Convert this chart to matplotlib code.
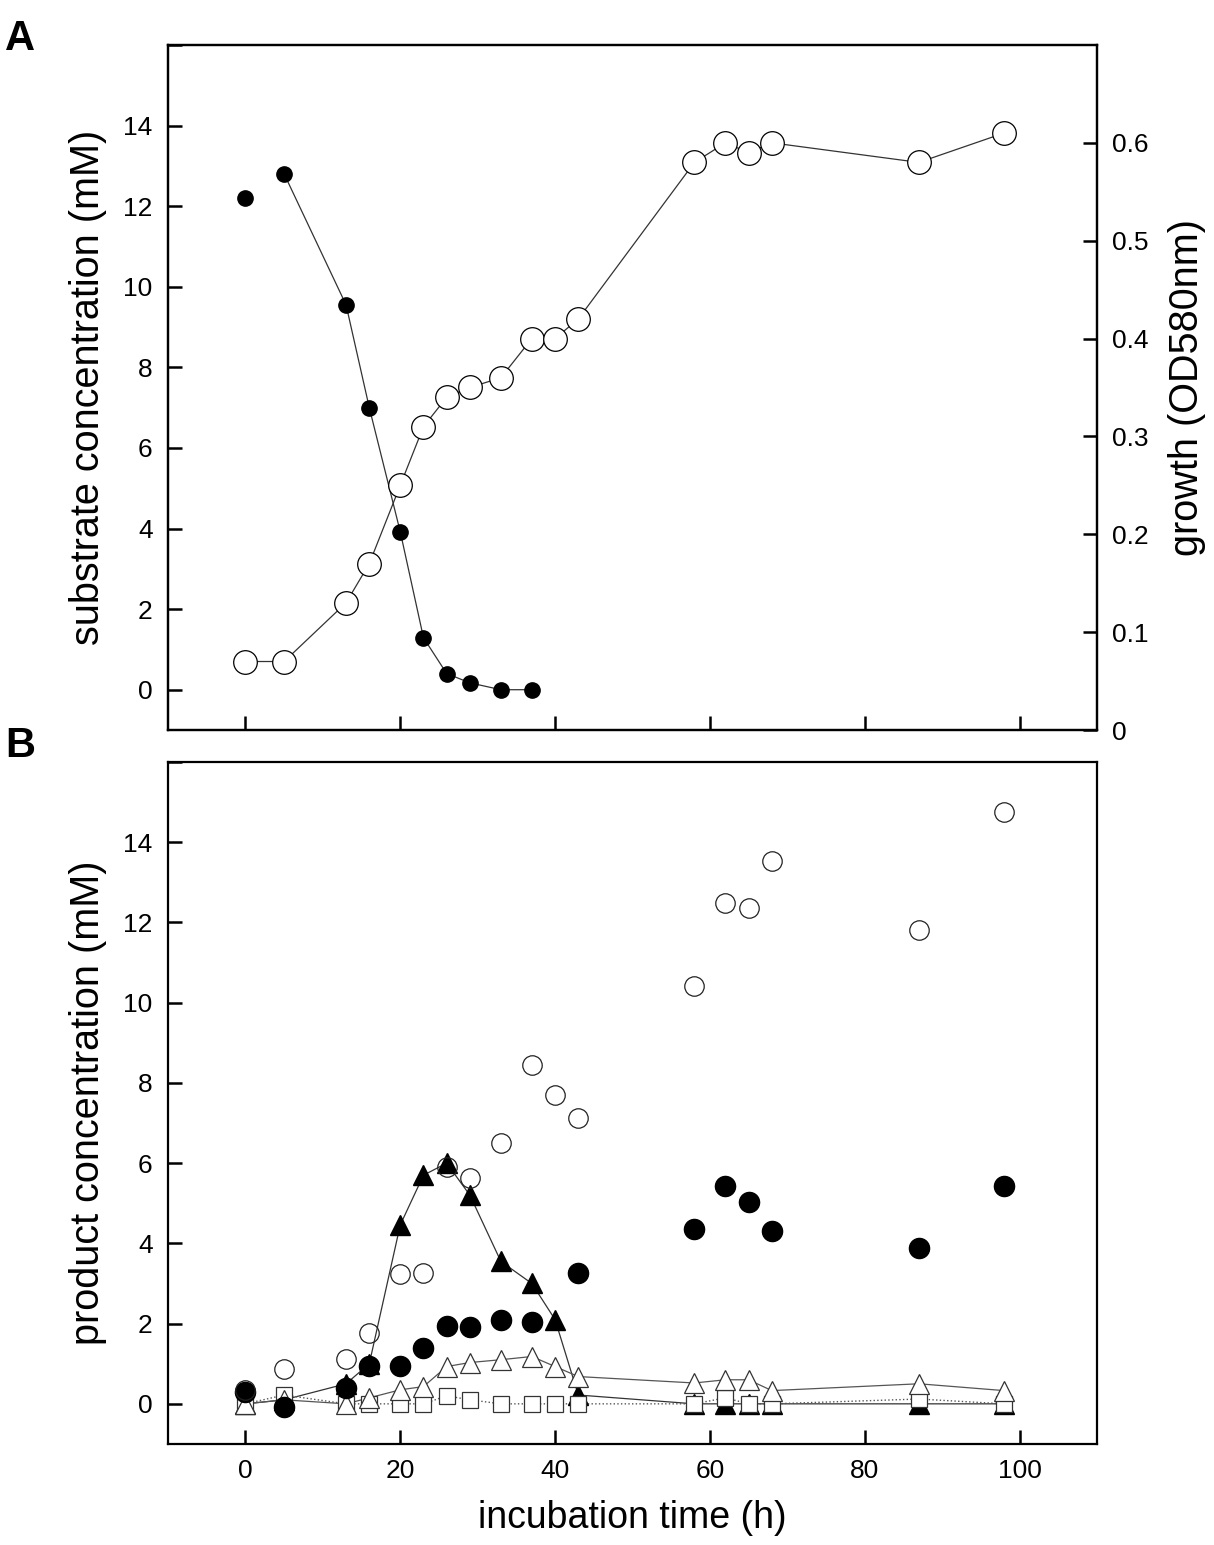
import numpy as np
import matplotlib
matplotlib.use("Agg")
import matplotlib.pyplot as plt

plt.rcParams['font.family'] = ['Liberation Sans', 'DejaVu Sans']

# panel A: substrate (filled) and growth (open)
t_sub = [0, 5, 13, 16, 20, 23, 26, 29, 33, 37]
substrate = [12.2, 12.8, 9.55, 7.0, 3.92, 1.29, 0.40, 0.17, 0.0, 0.0]

t_od = [0, 5, 13, 16, 20, 23, 26, 29, 33, 37, 40, 43, 58, 62, 65, 68, 87, 98]
growth = [0.07, 0.07, 0.13, 0.17, 0.25, 0.31, 0.34, 0.35, 0.36, 0.40, 0.40,
          0.42, 0.58, 0.60, 0.59, 0.60, 0.58, 0.61]

# panel B: products
t = [0, 5, 13, 16, 20, 23, 26, 29, 33, 37, 40, 43, 58, 62, 65, 68, 87, 98]
open_circ = [0.35, 0.87, 1.12, 1.77, 3.24, 3.26, 5.9, 5.63, 6.5, 8.45, 7.7,
             7.12, 10.41, 12.48, 12.36, 13.53, 11.81, 14.75]
t_fc = [0, 5, 13, 16, 20, 23, 26, 29, 33, 37, 43, 58, 62, 65, 68, 87, 98]
filled_circ = [0.3, -0.07, 0.4, 0.95, 0.95, 1.39, 1.94, 1.92, 2.08, 2.03,
               3.27, 4.36, 5.43, 5.03, 4.31, 3.89, 5.43]
filled_tri = [0.0, 0.1, 0.5, 1.0, 4.46, 5.7, 6.0, 5.2, 3.55, 3.0, 2.1, 0.22,
              0.0, 0.0, 0.0, 0.0, 0.0, 0.0]
open_tri = [0.0, 0.1, 0.0, 0.15, 0.35, 0.43, 0.93, 1.03, 1.1, 1.18, 0.93,
            0.68, 0.52, 0.6, 0.6, 0.33, 0.5, 0.33]
open_sq = [0.0, 0.22, 0.0, 0.0, 0.0, 0.0, 0.2, 0.1, 0.0, 0.0, 0.0, 0.0,
           0.0, 0.15, 0.0, 0.0, 0.12, 0.0]

fig = plt.figure(figsize=(12.14, 15.45), dpi=100)
axA = fig.add_axes([0.1384, 0.5275, 0.7652, 0.4434])
axB = fig.add_axes([0.1384, 0.0654, 0.7652, 0.4414])


def style(ax):
    for s in ax.spines.values():
        s.set_linewidth(1.6)
    ax.tick_params(direction='in', length=10, width=1.8, labelsize=19, pad=11)


# --- A ---
axA.plot(t_sub[1:], substrate[1:], '-', color='#333333', lw=0.9, zorder=2)
axA.plot(t_sub, substrate, 'o', ms=11, mfc='black', mec='black', ls='none', zorder=3)
axA.set_xlim(-10, 110)
axA.set_ylim(-1, 16)
axA.set_yticks(range(0, 17, 2))
axA.set_yticklabels([str(v) for v in range(0, 15, 2)] + [''])
axA.set_xticks(range(0, 101, 20))
axA.set_xticklabels([])
axA.set_ylabel('substrate concentration (mM)', fontsize=28.5, labelpad=12)
style(axA)

axA2 = axA.twinx()
axA2.plot(t_od, growth, '-o', color='#333333', lw=0.9, ms=17, mfc='white',
          mec='black', mew=0.9)
axA2.set_ylim(0, 0.7)
axA2.set_yticks([0, 0.1, 0.2, 0.3, 0.4, 0.5, 0.6])
axA2.set_yticklabels(['0', '0.1', '0.2', '0.3', '0.4', '0.5', '0.6'])
axA2.set_ylabel('growth (OD580nm)', fontsize=28.5, labelpad=14)
style(axA2)

# --- B ---
axB.plot(t, filled_tri, '-', color='#333333', lw=0.9, zorder=2)
axB.plot(t, filled_tri, '^', ms=14, mfc='black', mec='black', zorder=3)
axB.plot(t, open_sq, ':', color='#555555', lw=1.0, zorder=2)
axB.plot(t, open_sq, 's', ms=11, mfc='white', mec='#333333', mew=0.9, zorder=4)
axB.plot(t, open_tri, '-', color='#555555', lw=0.9, zorder=2)
axB.plot(t, open_tri, '^', ms=14, mfc='white', mec='#333333', mew=0.9, zorder=4)
axB.plot(t_fc, filled_circ, 'o', ms=14.5, mfc='black', mec='black', zorder=5)
axB.plot(t, open_circ, 'o', ms=14, mfc='none', mec='#222222', mew=0.9, zorder=6)
axB.set_xlim(-10, 110)
axB.set_ylim(-1, 16)
axB.set_yticks(range(0, 17, 2))
axB.set_yticklabels([str(v) for v in range(0, 15, 2)] + [''])
axB.set_xticks(range(0, 101, 20))
axB.set_xlabel('incubation time (h)', fontsize=27, labelpad=12)
axB.set_ylabel('product concentration (mM)', fontsize=28.5, labelpad=12)
style(axB)

fig.text(0.004, 0.975, 'A', fontsize=30, fontweight='bold', va='center')
fig.text(0.004, 0.517, 'B', fontsize=30, fontweight='bold', va='center')

fig.savefig('out.png', dpi=100)
